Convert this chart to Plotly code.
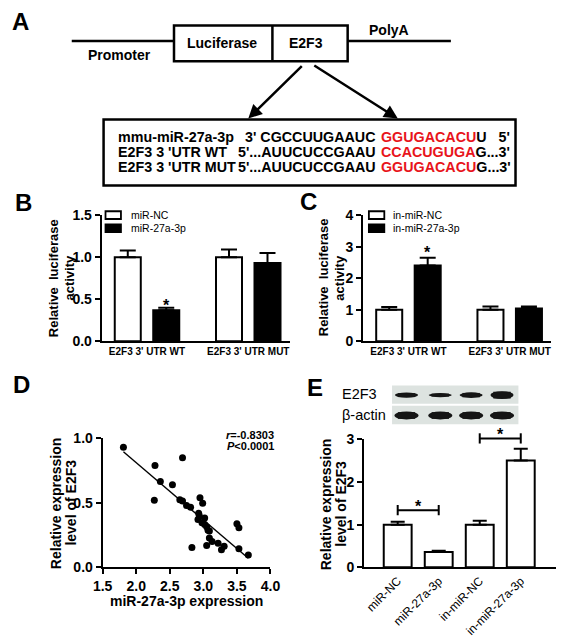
import numpy as np
import plotly.graph_objects as go

W, H = 567, 638
FONT = "Liberation Sans, Arial, Helvetica, sans-serif"

# ---------------- data ----------------
# Panel B: luciferase activity (miR-NC vs miR-27a-3p)
b_categories = ["E2F3 3' UTR WT", "E2F3 3' UTR MUT"]
b_mirnc = [1.00, 1.00]
b_mirnc_err = [0.08, 0.09]
b_mir27 = [0.37, 0.93]
b_mir27_err = [0.03, 0.12]

# Panel C: luciferase activity (in-miR-NC vs in-miR-27a-3p)
c_categories = ["E2F3 3' UTR WT", "E2F3 3' UTR MUT"]
c_innc = [1.00, 1.00]
c_innc_err = [0.09, 0.10]
c_in27 = [2.40, 1.04]
c_in27_err = [0.25, 0.06]

# Panel D: correlation
d_mir27 = [1.81, 2.28, 2.36, 2.27, 2.54, 2.69, 2.65, 2.69, 2.75, 2.81, 2.95,
           2.99, 2.93, 2.94, 2.92, 3.02, 2.98, 3.02, 3.05, 3.07, 3.09, 3.09,
           3.13, 3.22, 3.05, 3.27, 3.31, 2.83, 3.50, 3.53, 3.53, 3.67]
d_e2f3 = [0.93, 0.79, 0.665, 0.52, 0.64, 0.85, 0.524, 0.514, 0.48, 0.466, 0.54,
          0.496, 0.42, 0.40, 0.37, 0.383, 0.345, 0.332, 0.315, 0.287, 0.282, 0.227,
          0.20, 0.186, 0.169, 0.136, 0.164, 0.154, 0.338, 0.307, 0.144, 0.096]
d_stats = ["<i>r</i>=-0.8303", "<i>P</i>&lt;0.0001"]

# Panel E: relative E2F3 expression
e_categories = ["miR-NC", "miR-27a-3p", "in-miR-NC", "in-miR-27a-3p"]
e_values = [1.00, 0.36, 1.00, 2.50]
e_err = [0.07, 0.03, 0.09, 0.28]
e_brackets = [(0, 1, 1.34), (2, 3, 3.02)]   # compared groups and bracket height
e_blot_e2f3 = [4.0, 3.0, 4.5, 7.0]     # band thickness (western blot picture)
e_blot_actin = [7.0, 7.0, 7.0, 7.0]

# Panel A: construct / sequences
a_seq_labels = ["mmu-miR-27a-3p", "E2F3 3 'UTR WT", "E2F3 3 'UTR MUT"]
a_seq_prefix = ["3' CGCCUUGAAUC", "5'...AUUCUCCGAAU", "5'...AUUCUCCGAAU"]
a_seq_site = ["GGUGACACU", "CCACUGUGA", "GGUGACACU"]
a_seq_suffix = ["U&nbsp;&nbsp;&nbsp;5'", "G...3'", "G...3'"]


def X(p):
    return p / W


def Y(p):
    return 1 - p / H


fig = go.Figure()
shapes = []
ann = []


def txt(x, y, s, size=14, bold=True, xa="center", ya="middle", color="black", angle=0):
    ann.append(dict(x=X(x), y=Y(y), xref="paper", yref="paper", text=s, showarrow=False,
                    xanchor=xa, yanchor=ya, textangle=angle,
                    font=dict(family=FONT, size=size, color=color,
                              weight="bold" if bold else "normal")))


def line(x0, y0, x1, y1, w=2.5):
    shapes.append(dict(type="line", xref="paper", yref="paper", x0=X(x0), y0=Y(y0),
                       x1=X(x1), y1=Y(y1), line=dict(color="black", width=w)))


def rect(x0, y0, x1, y1, fill="rgba(0,0,0,0)", w=2.5, lc="black"):
    shapes.append(dict(type="rect", xref="paper", yref="paper", x0=X(x0), y0=Y(y0),
                       x1=X(x1), y1=Y(y1), fillcolor=fill,
                       line=dict(color=lc, width=w)))


# ---------------- Panel A ----------------
txt(11, 14, "A", size=24)
line(64, 34, 170, 34)
line(350, 34, 457, 34)
rect(170, 18, 350, 55)
line(272, 18, 272, 55)
txt(220, 36, "Luciferase")
txt(307, 36, "E2F3")
txt(114, 48, "Promoter")
txt(393, 23, "PolyA")
for hx, tx in [(247, 302), (402, 317)]:
    ann.append(dict(x=X(hx), y=Y(114), xref="paper", yref="paper", text="",
                    showarrow=True, ax=tx - hx, ay=60 - 114, arrowhead=2,
                    arrowsize=1.1, arrowwidth=2.5, arrowcolor="black", standoff=0))
rect(97, 115, 524, 183)
for i, ry in enumerate([133, 148.5, 164]):
    txt(110, ry, a_seq_labels[i], size=14.3, xa="left")
    txt(381, ry, a_seq_prefix[i], size=14.3, xa="right")
    txt(382, ry, "<span style='color:#e8141b'>" + a_seq_site[i] + "</span>" + a_seq_suffix[i],
        size=14.3, xa="left")

# ---------------- axes helpers ----------------
def yaxis(rng, tickvals, fmt, dom, anchor):
    return dict(range=rng, tickvals=tickvals, tickformat=fmt, domain=dom, anchor=anchor,
                showline=True, linewidth=2, linecolor="black", ticks="outside",
                ticklen=5, tickwidth=2, tickcolor="black", showgrid=False, zeroline=False,
                tickfont=dict(family=FONT, size=14, color="black", weight="bold"))


def xcat(rng, dom, anchor, size=10, bold=True, angle=0):
    return dict(type="category", range=rng, domain=dom, anchor=anchor, showline=True,
                linewidth=2, linecolor="black", ticks="", showgrid=False, zeroline=False,
                tickangle=angle,
                tickfont=dict(family=FONT, size=size, color="black",
                              weight="bold" if bold else "normal"))


def err(a, w=8):
    return dict(type="data", array=a, arrayminus=[0] * len(a), symmetric=False,
                color="black", thickness=2, width=w)


BW = 0.257
OFF = 0.19

# ---------------- Panel B ----------------
fig.add_trace(go.Bar(x=b_categories, y=b_mirnc, error_y=err(b_mirnc_err), width=BW,
                     offset=-OFF - BW / 2, marker=dict(color="white", line=dict(color="black", width=2)),
                     xaxis="x", yaxis="y", name="miR-NC"))
fig.add_trace(go.Bar(x=b_categories, y=b_mir27, error_y=err(b_mir27_err), width=BW,
                     offset=OFF - BW / 2, marker=dict(color="black", line=dict(color="black", width=2)),
                     xaxis="x", yaxis="y", name="miR-27a-3p"))
txt(14, 200, "B", size=24)
txt(45, 278, "Relative&nbsp; luciferase", size=13, angle=-90)
txt(62, 278, "activity", size=13, angle=-90)
rect(99, 209.5, 115, 217.5, fill="white", w=1.8)
rect(99, 223, 115, 231, fill="black", w=1.8)
txt(123, 213.5, "miR-NC", size=10.5, bold=False, xa="left")
txt(123, 227, "miR-27a-3p", size=10.5, bold=False, xa="left")
ann.append(dict(x=OFF, y=0.43, xref="x", yref="y", text="*", showarrow=False,
                font=dict(family=FONT, size=16, color="black", weight="bold")))

# ---------------- Panel C ----------------
fig.add_trace(go.Bar(x=c_categories, y=c_innc, error_y=err(c_innc_err), width=BW,
                     offset=-OFF - BW / 2, marker=dict(color="white", line=dict(color="black", width=2)),
                     xaxis="x2", yaxis="y2", name="in-miR-NC"))
fig.add_trace(go.Bar(x=c_categories, y=c_in27, error_y=err(c_in27_err), width=BW,
                     offset=OFF - BW / 2, marker=dict(color="black", line=dict(color="black", width=2)),
                     xaxis="x2", yaxis="y2", name="in-miR-27a-3p"))
txt(309, 199, "C", size=24)
txt(325, 278, "Relative&nbsp; luciferase", size=13, angle=-90)
txt(342, 278, "activity", size=13, angle=-90)
rect(372, 209.5, 388, 217.5, fill="white", w=1.8)
rect(372, 223, 388, 231, fill="black", w=1.8)
txt(395, 213.5, "in-miR-NC", size=10.5, bold=False, xa="left")
txt(395, 227, "in-miR-27a-3p", size=10.5, bold=False, xa="left")
ann.append(dict(x=OFF, y=2.8, xref="x2", yref="y2", text="*", showarrow=False,
                font=dict(family=FONT, size=16, color="black", weight="bold")))

# ---------------- Panel D ----------------
fig.add_trace(go.Scatter(x=d_mir27, y=d_e2f3, mode="markers",
                         marker=dict(color="black", size=7), xaxis="x3", yaxis="y3"))
slope, icpt = np.polyfit(d_mir27, d_e2f3, 1)
lx = np.array([min(d_mir27), max(d_mir27)])
fig.add_trace(go.Scatter(x=lx, y=slope * lx + icpt, mode="lines",
                         line=dict(color="black", width=1.4), xaxis="x3", yaxis="y3"))
txt(12, 388, "D", size=24)
txt(47, 510, "Relative expression", size=14, angle=-90)
txt(63, 510, "level of E2F3", size=14, angle=-90)
txt(183, 611, "miR-27a-3p expression", size=14)
txt(276, 440, d_stats[0], size=11, xa="right")
txt(276, 451, d_stats[1], size=11, xa="right")

# ---------------- Panel E ----------------
E_YRANGE = [0, 3]
E_YDOM = [Y(576.5), Y(444.5)]


def e_paper_y(v):
    # position on panel E's value scale, in paper units (for marks above the axis top)
    return E_YDOM[0] + (v - E_YRANGE[0]) / (E_YRANGE[1] - E_YRANGE[0]) * (E_YDOM[1] - E_YDOM[0])


fig.add_trace(go.Bar(x=e_categories, y=e_values, error_y=err(e_err, 7), width=0.68,
                     marker=dict(color="white", line=dict(color="black", width=2)),
                     xaxis="x4", yaxis="y4"))
txt(316, 391, "E", size=24)
txt(327, 511, "Relative expression", size=14, angle=-90)
txt(343, 511, "level of E2F3", size=14, angle=-90)
# significance brackets
for (c0, c1, yb) in e_brackets:
    for s in [dict(x0=c0, x1=c1, y0=e_paper_y(yb), y1=e_paper_y(yb)),
              dict(x0=c0, x1=c0, y0=e_paper_y(yb - 0.12), y1=e_paper_y(yb + 0.12)),
              dict(x0=c1, x1=c1, y0=e_paper_y(yb - 0.12), y1=e_paper_y(yb + 0.12))]:
        shapes.append(dict(type="line", xref="x4", yref="paper", line=dict(color="black", width=2), **s))
    ann.append(dict(x=(c0 + c1) / 2, y=e_paper_y(yb + 0.08), xref="x4", yref="paper", text="*",
                    showarrow=False, yanchor="middle",
                    font=dict(family=FONT, size=16, color="black", weight="bold")))
# western blot picture
rect(396, 389, 527, 408, fill="#dde3e0", w=0)
rect(396, 410, 527, 429, fill="#dde3e0", w=0)
band_x = [411, 446, 478, 510]
for bx, th in zip(band_x, e_blot_e2f3):
    shapes.append(dict(type="circle", xref="paper", yref="paper", x0=X(bx - 12), x1=X(bx + 12),
                       y0=Y(399 + th / 2 + 0.6), y1=Y(399 - th / 2 - 0.6), fillcolor="#151515",
                       line=dict(width=0)))
    rect(bx - 9, 399 - th / 2, bx + 9, 399 + th / 2, fill="#151515", w=0)
for bx, th in zip(band_x, e_blot_actin):
    shapes.append(dict(type="circle", xref="paper", yref="paper", x0=X(bx - 12.5), x1=X(bx + 12.5),
                       y0=Y(420 + th / 2 + 0.6), y1=Y(420 - th / 2 - 0.6), fillcolor="#151515",
                       line=dict(width=0)))
    rect(bx - 9, 420 - th / 2, bx + 9, 420 + th / 2, fill="#151515", w=0)
txt(382, 398, "E2F3", size=14.5, bold=False, xa="right")
txt(392, 419, "β-actin", size=14.5, bold=False, xa="right")

fig.update_layout(
    width=W, height=H, autosize=False,
    margin=dict(l=0, r=0, t=0, b=0),
    paper_bgcolor="white", plot_bgcolor="white",
    showlegend=False, barmode="overlay",
    font=dict(family=FONT, color="black"),
    xaxis=xcat([-0.448, 1.41], [X(95), X(290)], "y"),
    yaxis=yaxis([0, 1.5], [0, 0.5, 1.0, 1.5], ".1f", [Y(343.5), Y(213.5)], "x"),
    xaxis2=xcat([-0.448, 1.41], [X(366), X(561)], "y2"),
    yaxis2=yaxis([0, 4], [0, 1, 2, 3, 4], "d", [Y(343.5), Y(213.5)], "x2"),
    xaxis3=dict(range=[1.5, 4.0], tickvals=[1.5, 2.0, 2.5, 3.0, 3.5, 4.0], tickformat=".1f",
                domain=[X(96), X(270)], anchor="y3", showline=True, linewidth=2,
                linecolor="black", ticks="outside", ticklen=5, tickwidth=2, tickcolor="black",
                showgrid=False, zeroline=False,
                tickfont=dict(family=FONT, size=14, color="black", weight="bold")),
    yaxis3=yaxis([0, 1.0], [0, 0.5, 1.0], ".1f", [Y(576.5), Y(443.5)], "x3"),
    xaxis4=xcat([-0.82, 3.86], [X(367), X(566)], "y4", size=12, bold=False, angle=-45),
    yaxis4=yaxis(E_YRANGE, [0, 1, 2, 3], "d", E_YDOM, "x4"),
    shapes=shapes,
    annotations=ann,
)

fig.write_html("out.html", config={"displayModeBar": False},
               post_script="document.body.style.margin='0px';")
